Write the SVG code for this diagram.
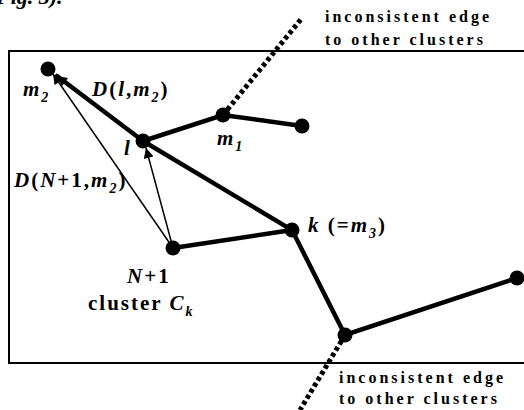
<svg xmlns="http://www.w3.org/2000/svg" width="524" height="410" viewBox="0 0 524 410">
<style>
.t{font-family:"Liberation Serif","Times New Roman",serif;font-weight:bold;fill:#000}
.i{font-style:italic}
.lbl{font-size:16px;letter-spacing:3px}
.m{font-size:21px;letter-spacing:2px}
.sub{font-size:14px}
.thick{stroke:#000;stroke-width:4.5;fill:none;stroke-linecap:round}
.thin{stroke:#000;stroke-width:1.5;fill:none}
.dash{stroke:#000;stroke-width:5;fill:none;stroke-dasharray:4 3}
.node{fill:#000}
</style>
<defs>
<marker id="ah2" viewBox="0 0 10 10" refX="10" refY="5" markerWidth="11" markerHeight="10" markerUnits="userSpaceOnUse" orient="auto">
<path d="M0,0 L10,5 L0,10 z" fill="#000"/>
</marker>
</defs>
<rect width="524" height="410" fill="#fff"/>
<text class="t i" x="-4" y="4" font-size="22" font-weight="normal">Fig. 3).</text>
<rect x="9" y="51" width="530" height="312" fill="none" stroke="#000" stroke-width="2"/>
<g id="connectors">
<path class="dash" d="M223,115 L302,18"/>
<path class="dash" d="M345,335 L300,410"/>
<path class="thick" d="M143,141 L223,115 L302,126"/>
<path class="thick" d="M143,141 L292,230 L345,335 L517,278"/>
<path class="thick" d="M173,248 L292,230"/>
<path class="thick" d="M143,141 L57,76" marker-end="url(#ah2)"/>
<path class="thin" d="M173,248 L53,74" marker-end="url(#ah2)"/>
<path class="thin" d="M173,248 L146,148" marker-end="url(#ah2)"/>
</g>
<g id="m2"><circle class="node" cx="48" cy="69" r="7.5"/><text class="t i m" x="23" y="96">m<tspan class="sub" dy="6">2</tspan></text></g>
<g id="l"><circle class="node" cx="143" cy="141" r="7.5"/><text class="t i m" x="124" y="155">l</text></g>
<g id="m1"><circle class="node" cx="223" cy="115" r="7.5"/><text class="t i m" x="217" y="145">m<tspan class="sub" dy="6">1</tspan></text></g>
<g id="n_right"><circle class="node" cx="302" cy="126" r="7.5"/></g>
<g id="nplus1"><circle class="node" cx="173" cy="248" r="7.5"/><text class="t m" x="127" y="283"><tspan class="i">N</tspan>+1</text><text class="t m" x="88" y="310">cluster <tspan class="i">C</tspan><tspan class="i sub" dy="6">k</tspan></text></g>
<g id="k"><circle class="node" cx="292" cy="230" r="7.5"/><text class="t m" x="308" y="232"><tspan class="i">k</tspan> (=<tspan class="i">m</tspan><tspan class="i sub" dy="6">3</tspan><tspan dy="-6">)</tspan></text></g>
<g id="n_low"><circle class="node" cx="345" cy="335" r="7.5"/></g>
<g id="n_far"><circle class="node" cx="517" cy="278" r="7.5"/></g>
<g id="D1"><text class="t m" x="92" y="96"><tspan class="i">D</tspan>(<tspan class="i">l</tspan>,<tspan class="i">m</tspan><tspan class="i sub" dy="6">2</tspan><tspan dy="-6">)</tspan></text></g>
<g id="D2"><text class="t m" x="14" y="187"><tspan class="i">D</tspan>(<tspan class="i">N</tspan>+1,<tspan class="i">m</tspan><tspan class="i sub" dy="6">2</tspan><tspan dy="-6">)</tspan></text></g>
<g id="top_label"><text class="t lbl" x="325" y="22">inconsistent  edge</text><text class="t lbl" x="325" y="45">to other clusters</text></g>
<g id="bottom_label"><text class="t lbl" x="339" y="383">inconsistent  edge</text><text class="t lbl" x="339" y="404">to other clusters</text></g>
</svg>
